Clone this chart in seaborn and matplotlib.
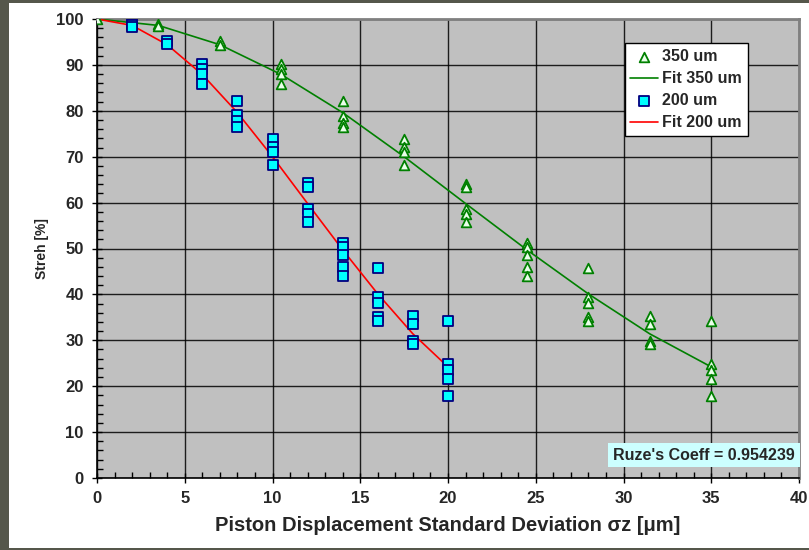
import numpy as np
import pandas as pd
import matplotlib
matplotlib.use("Agg")
import matplotlib.pyplot as plt
from matplotlib.ticker import MultipleLocator
import seaborn as sns

# ---- measured Strehl ratios, 350 um wavelength ----
x350 = [0,
        3.5, 3.5,
        7, 7,
        10.5, 10.5, 10.5, 10.5,
        14, 14, 14, 14,
        17.5, 17.5, 17.5, 17.5,
        21, 21, 21, 21, 21,
        24.5, 24.5, 24.5, 24.5, 24.5,
        28, 28, 28, 28, 28,
        31.5, 31.5, 31.5, 31.5,
        35, 35, 35, 35, 35]
s350 = [100,
        98.9, 98.5,
        95.2, 94.3,
        90.2, 89.2, 88.0, 85.8,
        82.2, 78.9, 77.3, 76.4,
        73.9, 72.2, 71.1, 68.2,
        64.1, 63.4, 58.6, 57.6, 55.8,
        51.3, 50.4, 48.6, 46.0, 43.9,
        45.7, 39.5, 38.2, 35.1, 34.1,
        35.4, 33.6, 29.8, 29.3,
        34.2, 24.8, 23.5, 21.6, 17.9]

# ---- Ruze fit, 350 um ----
xfit350 = [0, 3.5, 7, 10.5, 14, 17.5, 21, 24.5, 28, 31.5, 35]
sfit350 = [100, 98.6, 94.4, 87.9, 79.6, 70.0, 59.8, 49.7, 40.1, 31.4, 24.2]

# ---- measured Strehl ratios, 200 um wavelength ----
x200 = [2, 2, 2,
        4, 4,
        6, 6, 6, 6,
        8, 8, 8, 8,
        10, 10, 10, 10,
        12, 12, 12, 12, 12,
        14, 14, 14, 14, 14,
        16, 16, 16, 16, 16,
        18, 18, 18, 18,
        20, 20, 20, 20, 20]
s200 = [99.0, 98.6, 98.3,
        95.3, 94.5,
        90.2, 89.2, 88.1, 85.8,
        82.2, 79.1, 77.8, 76.5,
        73.9, 72.2, 71.1, 68.2,
        64.2, 63.4, 58.6, 57.6, 55.8,
        51.3, 50.4, 48.6, 46.0, 43.9,
        45.7, 39.5, 38.2, 35.1, 34.1,
        35.4, 33.6, 29.8, 29.3,
        34.3, 24.9, 23.6, 21.6, 17.9]

# ---- Ruze fit, 200 um ----
xfit200 = [0, 2, 4, 6, 8, 10, 12, 14, 16, 18, 20]
sfit200 = [100, 98.6, 94.4, 87.9, 79.6, 70.0, 59.8, 49.7, 40.1, 31.4, 24.2]

ruze_coeff = 0.954239

x_ticks = [0, 5, 10, 15, 20, 25, 30, 35, 40]
y_ticks = [0, 10, 20, 30, 40, 50, 60, 70, 80, 90, 100]

sns.set_style("white")
plt.rcParams["font.family"] = ["Liberation Sans", "DejaVu Sans"]
plt.rcParams["font.weight"] = "bold"

fig = plt.figure(figsize=(8.09, 5.50), dpi=100, facecolor="#55574b")
# white panel behind the chart
panel = plt.Rectangle((9 / 809, 1 - 548 / 550), 1, (548 - 3) / 550,
                      transform=fig.transFigure, facecolor="white",
                      edgecolor="none", zorder=-10)
fig.patches.append(panel)

ax = fig.add_axes([97 / 809, 1 - 478 / 550, (799 - 97) / 809, (478 - 19) / 550])
ax.set_zorder(1)
ax.set_facecolor("#c0c0c0")

d350 = pd.DataFrame({"x": x350, "s": s350})
f350 = pd.DataFrame({"x": xfit350, "s": sfit350})
d200 = pd.DataFrame({"x": x200, "s": s200})
f200 = pd.DataFrame({"x": xfit200, "s": sfit200})

sns.lineplot(data=f350, x="x", y="s", ax=ax, color="#008000", lw=1.2,
             sort=False, estimator=None, label="Fit 350 um", zorder=3)
sns.lineplot(data=f200, x="x", y="s", ax=ax, color="#ff0000", lw=1.2,
             sort=False, estimator=None, label="Fit 200 um", zorder=3)
sns.scatterplot(data=d350, x="x", y="s", ax=ax, marker="^", s=48,
                facecolor="#eaffea", edgecolor="#008000", linewidth=1.3,
                label="350 um", zorder=4)
sns.scatterplot(data=d200, x="x", y="s", ax=ax, marker="s", s=42,
                facecolor="#00ffff", edgecolor="#000080", linewidth=1.3,
                label="200 um", zorder=5)

ax.set_xlim(0, 40)
ax.set_ylim(0, 100)
ax.set_xticks(x_ticks)
ax.set_yticks(y_ticks)
ax.xaxis.set_minor_locator(MultipleLocator(1))
ax.yaxis.set_minor_locator(MultipleLocator(2))
ax.tick_params(which="major", direction="inout", length=7, width=1,
               color="black", labelsize=12, pad=6)
ax.tick_params(which="minor", direction="in", length=4, width=1,
               color="black")
ax.tick_params(axis="x", which="both", bottom=True, top=False)
ax.tick_params(axis="y", which="both", left=True, right=False)
for lab in ax.get_xticklabels() + ax.get_yticklabels():
    lab.set_fontweight("bold")

ax.grid(True, which="major", color="black", lw=1, alpha=0.85)
ax.set_axisbelow(True)

for side in ("left", "bottom"):
    ax.spines[side].set_color("black")
    ax.spines[side].set_linewidth(1.2)
for side in ("top", "right"):
    ax.spines[side].set_color("#808080")
    ax.spines[side].set_linewidth(2)

ax.set_xlabel("Piston Displacement Standard Deviation σz [μm]",
              fontsize=14.5, fontweight="bold", labelpad=7)
ax.set_ylabel("Streh [%]", fontsize=10, fontweight="bold", labelpad=5)

handles, labels = ax.get_legend_handles_labels()
order = ["350 um", "Fit 350 um", "200 um", "Fit 200 um"]
hmap = dict(zip(labels, handles))
leg = ax.legend([hmap[k] for k in order], order, loc="upper left",
                bbox_to_anchor=(0.752, 0.947), frameon=True, fancybox=False,
                framealpha=1, edgecolor="black", facecolor="white",
                prop={"weight": "bold", "size": 11.5}, handlelength=1.7,
                handletextpad=0.3, borderpad=0.35, labelspacing=0.45,
                borderaxespad=0)
leg.get_frame().set_linewidth(1)

ax.text(0.994, 0.05, f"Ruze's Coeff = {ruze_coeff:.6f}", transform=ax.transAxes,
        ha="right", va="center", fontsize=11.5, fontweight="bold",
        bbox=dict(boxstyle="square,pad=0.3", facecolor="#ccffff",
                  edgecolor="none"), zorder=6)

fig.savefig("out.png", dpi=100, facecolor=fig.get_facecolor())
